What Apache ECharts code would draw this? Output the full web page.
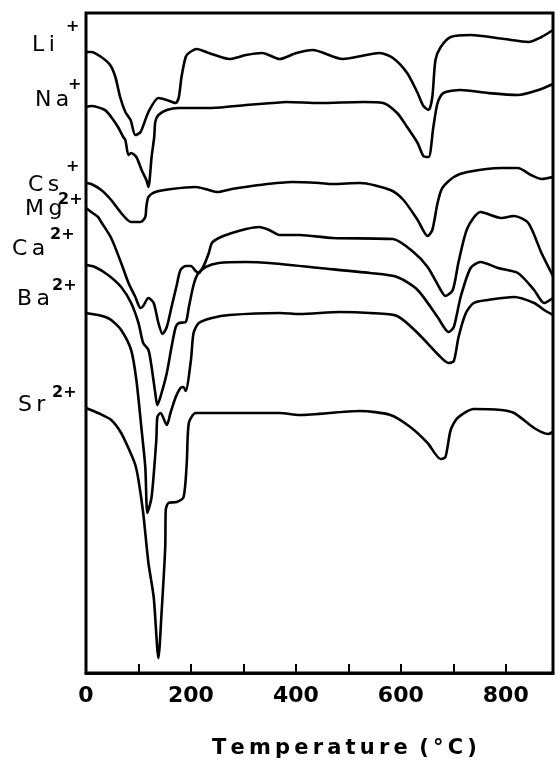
<!DOCTYPE html>
<html>
<head>
<meta charset="utf-8">
<script src="https://cdn.jsdelivr.net/npm/echarts@6/dist/echarts.min.js"></script>
<style>
html,body{margin:0;padding:0;background:#fff;}
#chart{width:558px;height:762px;}
</style>
</head>
<body>
<div id="chart"></div>
<script>
// Temperature (°C) vs. DTA signal (arbitrary vertical units, curves offset)
var tickLabels = [0, 200, 400, 600, 800];
var ionNames = ['Li', 'Na', 'Cs', 'Mg', 'Ca', 'Ba', 'Sr'];
var ionCharges = ['+', '+', '+', '2+', '2+', '2+', '2+'];

var li = [[0,621],[10,621],[29,616],[46,608],[56,596],[65,576],[75,561],[85,553],[94,538],[104,541],[119,561],[138,575],[154,573],[171,570],[177,576],[182,596],[190,616],[196,620],[211,624],[234,620],[273,614],[305,618],[336,620],[369,614],[401,620],[432,623],[489,614],[560,620],[585,615],[612,600],[632,580],[643,567],[653,563],[660,576],[666,613],[676,626],[695,636],[733,638],[797,634],[843,631],[868,636],[890,643]];
var na = [[0,566],[10,567],[36,563],[48,556],[61,546],[71,536],[75,533],[81,518],[86,520],[96,516],[106,503],[115,493],[119,486],[125,516],[130,536],[132,551],[138,558],[154,563],[177,565],[240,565],[305,568],[355,570],[382,571],[445,570],[528,571],[566,570],[593,560],[612,546],[632,530],[643,517],[653,516],[662,546],[670,570],[681,580],[714,583],[766,580],[823,578],[862,583],[890,589]];
var cs = [[0,490],[10,489],[29,483],[48,473],[67,460],[86,451],[104,451],[113,456],[115,466],[119,476],[132,481],[163,484],[209,486],[234,483],[250,481],[278,484],[330,488],[393,491],[445,490],[470,489],[522,490],[580,483],[605,473],[632,453],[651,437],[660,443],[670,470],[679,485],[701,496],[727,501],[791,505],[823,505],[848,498],[868,494],[890,496]];
var mg = [[0,465],[10,461],[23,456],[29,451],[48,435],[67,410],[81,390],[94,376],[104,365],[109,367],[119,375],[129,370],[138,350],[146,339],[154,346],[163,366],[173,388],[180,403],[190,407],[200,407],[209,402],[215,400],[225,408],[234,420],[240,430],[253,435],[278,440],[305,444],[330,446],[349,443],[369,438],[407,438],[470,435],[585,434],[624,421],[651,406],[676,383],[685,377],[699,383],[710,411],[727,445],[752,461],[791,455],[816,457],[843,450],[868,420],[890,397]];
var ca = [[0,408],[17,406],[42,398],[67,386],[86,370],[100,350],[109,330],[119,323],[125,306],[132,280],[136,268],[144,280],[154,300],[163,326],[171,346],[177,350],[190,351],[196,366],[205,388],[213,399],[228,406],[253,410],[305,411],[349,410],[445,405],[541,400],[593,396],[632,383],[670,356],[691,341],[701,346],[714,376],[733,405],[752,411],[785,405],[823,400],[854,383],[873,370],[890,375]];
var ba = [[0,360],[23,358],[37,356],[48,353],[67,343],[86,323],[96,293],[106,243],[113,206],[117,160],[125,176],[134,233],[136,256],[142,260],[154,248],[161,260],[171,276],[180,285],[186,286],[190,282],[200,313],[205,340],[215,350],[240,355],[273,358],[369,360],[407,359],[484,361],[541,360],[593,357],[632,340],[670,319],[691,310],[701,312],[710,336],[724,360],[739,370],[766,373],[816,376],[854,370],[873,363],[890,358]];
var sr = [[0,265],[23,260],[48,253],[67,240],[85,220],[94,208],[100,193],[109,160],[119,110],[129,76],[138,15],[144,60],[151,126],[152,163],[157,170],[173,171],[186,176],[192,210],[196,250],[209,260],[228,260],[369,260],[407,258],[522,262],[580,258],[618,246],[651,230],[676,214],[685,216],[695,243],[708,255],[739,264],[791,263],[816,260],[854,245],[881,239],[890,241]];

var curves = [li, na, cs, mg, ca, ba, sr];

// label layout (pixel positions of the ion labels: base x, base center y, charge x, charge center y)
var labelLayout = [
  [32, 47, 66, 28],
  [35, 102, 68, 86],
  [28, 187, 66, 168],
  [25, 211, 58, 201],
  [12, 251, 50, 236],
  [17, 301, 52, 287],
  [18, 407, 52, 394]
];

function spaced(s) { return s.split('').join('\u2009'); }

var graphics = [];
ionNames.forEach(function (n, i) {
  var L = labelLayout[i];
  graphics.push({
    type: 'text', left: L[0], top: L[1] - 13,
    style: { text: spaced(n), fontSize: 22, fontFamily: 'DejaVu Sans', fill: '#000' }
  });
  graphics.push({
    type: 'text', left: L[2], top: L[3] - 9,
    style: { text: ionCharges[i], fontSize: 16, fontFamily: 'DejaVu Sans', fontWeight: 'bold', fill: '#000' }
  });
});
graphics.push({
  type: 'text', left: 212, top: 738,
  style: { text: spaced('Temperature') + '\u2009 (\u2009°\u2009C\u2009)', fontSize: 21, fontFamily: 'DejaVu Sans', fontWeight: 'bold', fill: '#000' }
});

var chart = echarts.init(document.getElementById('chart'));
chart.setOption({
  animation: false,
  backgroundColor: '#fff',
  grid: { left: 86, right: 5, top: 13, bottom: 89, show: true, borderColor: '#000', borderWidth: 3, backgroundColor: 'transparent' },
  xAxis: {
    type: 'value', min: 0, max: 890, interval: 100,
    axisLine: { lineStyle: { color: '#000', width: 3 } },
    axisTick: { inside: true, length: 9, lineStyle: { color: '#000', width: 2 } },
    splitLine: { show: false },
    axisLabel: {
      color: '#000', fontSize: 22, fontFamily: 'DejaVu Sans', fontWeight: 'bold', margin: 12,
      formatter: function (v) { return tickLabels.indexOf(v) >= 0 ? String(v) : ''; }
    }
  },
  yAxis: { type: 'value', min: 0, max: 660, show: false },
  graphic: graphics,
  series: curves.map(function (d, i) {
    return {
      name: ionNames[i] + ionCharges[i], type: 'line', data: d, showSymbol: false, smooth: 0.25,
      lineStyle: { color: '#000', width: 2.6 }, z: 3
    };
  })
});
</script>
</body>
</html>
